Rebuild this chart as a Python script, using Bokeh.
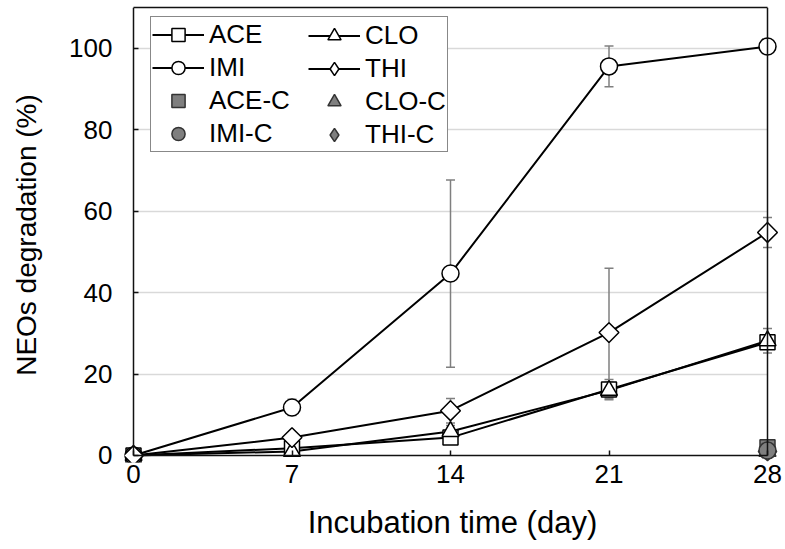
import math
from bokeh.plotting import figure
from bokeh.models import (ColumnDataSource, Whisker, TeeHead, Legend, LegendItem, Range1d,
                          FixedTicker, LinearAxis, Grid)
from bokeh.embed import file_html
from bokeh.resources import INLINE

days = [0, 7, 14, 21, 28]
ace = [0.0, 1.8, 4.4, 16.2, 27.8]
ace_err = [0.0, 0.5, 1.0, 2.5, 1.5]
clo = [0.0, 1.0, 5.9, 16.0, 28.2]
clo_err = [0.0, 0.5, 1.5, 2.0, 3.0]
imi = [0.0, 11.8, 44.7, 95.6, 100.5]
imi_err = [0.0, 2.0, 23.0, 5.0, 1.0]
thi = [0.0, 4.4, 11.0, 30.2, 54.8]
thi_err = [0.0, 1.0, 3.0, 15.8, 3.7]

ctrl_day = [28]
ace_c = [2.0]
clo_c = [1.0]
imi_c = [1.2]
thi_c = [1.0]

x_ticks = [0, 7, 14, 21, 28]
y_ticks = [0, 20, 40, 60, 80, 100]
grid_ticks = [20, 40, 60, 80, 100]

FONT = "Liberation Sans"

p = figure(frame_width=656, frame_height=455, output_backend="svg", toolbar_location=None,
           x_range=Range1d(-0.3975, 28.574), y_range=Range1d(-1.72, 110.07),
           x_axis_location=None, y_axis_location=None,
           min_border_left=124, min_border_right=5, min_border_top=7, min_border_bottom=87)
p.outline_line_color = None
p.grid.grid_line_color = None

# --- label axes (at the frame edges; text only)
xlab = LinearAxis(ticker=FixedTicker(ticks=x_ticks), bounds=(-0.2, 28.02))
ylab = LinearAxis(ticker=FixedTicker(ticks=y_ticks), bounds=(0, 102.9))
for ax in (xlab, ylab):
    ax.axis_line_color = None
    ax.major_tick_line_color = None
    ax.minor_tick_line_color = None
    ax.major_tick_in = 0
    ax.major_tick_out = 0
    ax.major_label_text_font = FONT
    ax.major_label_text_font_size = "26px"
    ax.major_label_text_color = "black"
    ax.axis_label_text_font = FONT
    ax.axis_label_text_font_style = "normal"
    ax.axis_label_text_color = "black"
xlab.axis_label = "Incubation time (day)"
ylab.axis_label = "NEOs degradation (%)"
xlab.axis_label_text_font_size = "31px"
ylab.axis_label_text_font_size = "28px"
xlab.major_label_standoff = 2
ylab.major_label_standoff = 12
xlab.axis_label_standoff = 19
ylab.axis_label_standoff = 24
p.add_layout(xlab, "below")
p.add_layout(ylab, "left")

# --- axis lines with inward ticks, at x=0 and y=0, plus top/right frame lines
xax = LinearAxis(fixed_location=0, bounds=(0, 28), ticker=FixedTicker(ticks=x_ticks))
yax = LinearAxis(fixed_location=0, bounds=(0, 110.07), ticker=FixedTicker(ticks=y_ticks))
top = LinearAxis(bounds=(0, 28), ticker=FixedTicker(ticks=[]))
right = LinearAxis(fixed_location=28, bounds=(0, 110.07), ticker=FixedTicker(ticks=[]))
for ax in (xax, yax, top, right):
    ax.major_tick_in = 5
    ax.major_tick_out = 0
    ax.minor_tick_line_color = None
    ax.axis_line_width = 1.5
    ax.axis_line_color = "#111111"
    ax.major_tick_line_width = 1.5
    ax.major_tick_line_color = "#111111"
    ax.major_label_text_font_size = "1px"
    ax.major_label_text_color = None
    ax.major_label_standoff = 0
    ax.axis_label_standoff = 0
for ax in (top, right):
    ax.major_tick_in = 0
    ax.major_tick_line_color = None
p.add_layout(xax, "below")
p.add_layout(yax, "left")
p.add_layout(top, "above")
p.add_layout(right, "right")

g = Grid(dimension=1, ticker=FixedTicker(ticks=grid_ticks), grid_line_color="#d9d9d9",
         grid_line_width=1.5, cross_bounds=(0, 28))
p.add_layout(g, "center")

series = [("ACE", ace, ace_err, "square", 15, 0.0),
          ("CLO", clo, clo_err, "triangle", 17, 0.0),
          ("IMI", imi, imi_err, "circle", 17, 0.0),
          ("THI", thi, thi_err, "square", 14, math.pi / 4)]

for name, vals, errs, mk, sz, ang in series:
    src = ColumnDataSource(dict(x=days, up=[v + e for v, e in zip(vals, errs)],
                                lo=[v - e for v, e in zip(vals, errs)]))
    w = Whisker(base="x", upper="up", lower="lo", source=src, line_color="#7f7f7f", line_width=1.5,
                upper_head=TeeHead(size=9, line_color="#7f7f7f", line_width=1.5),
                lower_head=TeeHead(size=9, line_color="#7f7f7f", line_width=1.5))
    p.add_layout(w)

items = {}
lines = {}
for name, vals, errs, mk, sz, ang in series:
    lines[name] = p.line(days, vals, line_color="black", line_width=2)

# diamond keys for the legend (a legend cannot rotate a square); drawn first, hidden under the rotated squares
thi_key = p.scatter(days, thi, marker="diamond", size=13, fill_color="white",
                    line_color="black", line_width=1.5)
thic_key = p.scatter(ctrl_day, thi_c, marker="diamond", size=12, fill_color="#7f7f7f",
                     line_color="#333333", line_width=1.5)

for name, vals, errs, mk, sz, ang in series:
    s = p.scatter(days, vals, marker=mk, size=sz, angle=ang, fill_color="white",
                  line_color="black", line_width=1.5)
    items[name] = [lines[name], s]

ctrl = [("ACE-C", ace_c, "square", 15, 0.0), ("CLO-C", clo_c, "triangle", 17, 0.0),
        ("THI-C", thi_c, "square", 13, math.pi / 4), ("IMI-C", imi_c, "circle", 17, 0.0)]
for name, vals, mk, sz, ang in ctrl:
    s = p.scatter(ctrl_day, vals, marker=mk, size=sz, angle=ang, fill_color="#7f7f7f",
                  line_color="#333333", line_width=1.5)
    items[name] = [s]

items["THI"] = [lines["THI"], thi_key]
items["THI-C"] = [thic_key]

col1 = ["ACE", "IMI", "ACE-C", "IMI-C"]
col2 = ["CLO", "THI", "CLO-C", "THI-C"]
common = dict(label_text_font=FONT, label_text_font_size="26px", label_text_color="black",
              glyph_width=52, glyph_height=33, label_standoff=5, spacing=0, padding=1, margin=0)
leg1 = Legend(items=[LegendItem(label=n, renderers=items[n]) for n in col1],
              location=(26, 310), label_width=237,
              border_line_color="#111111", border_line_width=1.5,
              background_fill_color="white", background_fill_alpha=1.0, **common)
leg2 = Legend(items=[LegendItem(label=n, renderers=items[n]) for n in col2],
              location=(183, 310), label_width=60,
              border_line_alpha=0.0, background_fill_alpha=0.0, **common)
p.add_layout(leg1)
p.add_layout(leg2)

open("out.html", "w").write(file_html(p, INLINE))
